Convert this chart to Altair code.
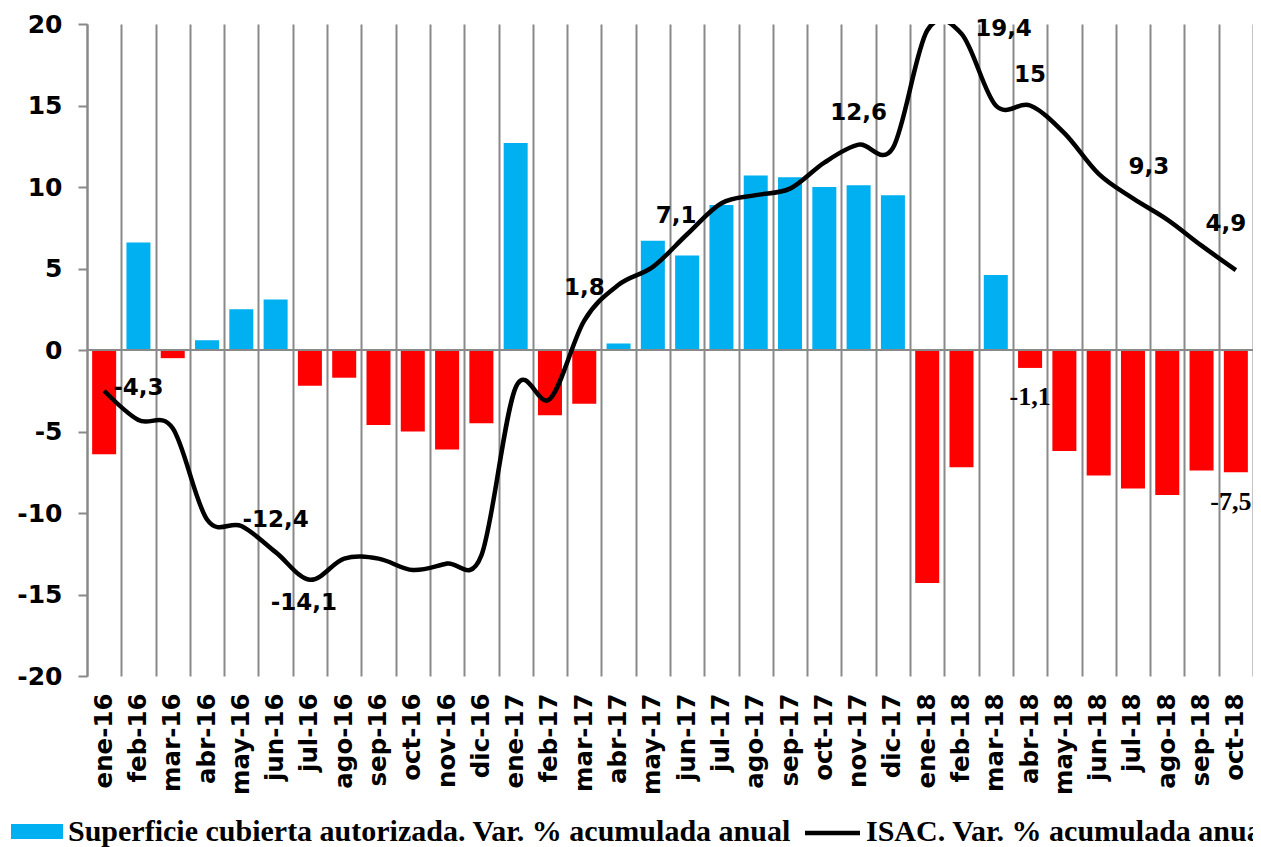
import altair as alt
import pandas as pd

months = ["ene-16", "feb-16", "mar-16", "abr-16", "may-16", "jun-16", "jul-16", "ago-16",
          "sep-16", "oct-16", "nov-16", "dic-16", "ene-17", "feb-17", "mar-17", "abr-17",
          "may-17", "jun-17", "jul-17", "ago-17", "sep-17", "oct-17", "nov-17", "dic-17",
          "ene-18", "feb-18", "mar-18", "abr-18", "may-18", "jun-18", "jul-18", "ago-18",
          "sep-18", "oct-18"]

superficie = [-6.4, 6.6, -0.5, 0.6, 2.5, 3.1, -2.2, -1.7, -4.6, -5.0, -6.1, -4.5,
              12.7, -4.0, -3.3, 0.4, 6.7, 5.8, 8.9, 10.7, 10.6, 10.0, 10.1, 9.5,
              -14.3, -7.2, 4.6, -1.1, -6.2, -7.7, -8.5, -8.9, -7.4, -7.5]

isac = [-2.5, -4.3, -4.8, -10.4, -10.8, -12.4, -14.1, -12.8, -12.8, -13.5, -13.1, -12.6,
        -2.3, -3.0, 1.8, 4.0, 5.1, 7.1, 9.0, 9.5, 9.9, 11.5, 12.6, 12.4,
        19.6, 19.4, 15.0, 15.0, 13.3, 10.8, 9.3, 8.0, 6.4, 4.9]

line_label_months = ["feb-16", "jun-16", "jul-16", "mar-17", "jun-17", "nov-17",
                     "feb-18", "abr-18", "jul-18", "oct-18"]
line_label_values = [-4.3, -12.4, -14.1, 1.8, 7.1, 12.6, 19.4, 15, 9.3, 4.9]
line_label_texts = ["-4,3", "-12,4", "-14,1", "1,8", "7,1", "12,6", "19,4", "15", "9,3", "4,9"]

bar_label_months = ["abr-18", "oct-18"]
bar_label_values = [-1.1, -7.5]
bar_label_texts = ["-1,1", "-7,5"]

legend_bar_text = "Superficie cubierta autorizada. Var. % acumulada anual"
legend_line_text = "ISAC. Var. % acumulada anual"

# label offsets (layout only)
line_label_dx = [0, 0, -6, 0, -11, 0, 42, 0, 16, -10]
line_label_dy = [-32, -32, 23, -33, -18, -32, -5, -31, -31, -46]
bar_label_dx = [0, -5]
bar_label_dy = [29, 30]

W, H = 1166, 652
GRID = "#898989"
BLUE = "#00B0F0"
RED = "#FF0000"

df = pd.DataFrame({"month": months, "sup": superficie, "isac": isac})

xscale = alt.Scale(domain=months, paddingInner=0, paddingOuter=0, round=False)
yscale = alt.Scale(domain=[-20, 20], nice=False, zero=False)

x_enc = alt.X("month:N", sort=months, scale=xscale, title=None,
              axis=alt.Axis(grid=True, gridColor=GRID, gridWidth=2, tickBand="extent",
                            ticks=False, domain=False, labelAngle=-90, labelFontSize=24.5,
                            labelFont="DejaVu Sans", labelFontWeight="bold",
                            labelColor="black", labelPadding=17, labelOverlap=False))
y_axis = alt.Axis(values=[-20, -15, -10, -5, 0, 5, 10, 15, 20], grid=False,
                  domainColor=GRID, domainWidth=2, tickColor=GRID, tickWidth=2,
                  tickSize=9, labelFontSize=25, labelFont="DejaVu Sans",
                  labelFontWeight="bold", labelColor="black", labelPadding=16,
                  labelExpr="'' + datum.value")

bars = alt.Chart(df).mark_bar(width=alt.RelativeBandSize(0.7)).encode(
    x=x_enc,
    y=alt.Y("sup:Q", scale=yscale, axis=y_axis, title=None),
    color=alt.condition(alt.datum.sup >= 0, alt.value(BLUE), alt.value(RED)),
)

zero = alt.Chart(pd.DataFrame({"z": [0]})).mark_rule(color=GRID, strokeWidth=2).encode(
    y=alt.Y("z:Q", scale=yscale),
    x=alt.value(0), x2=alt.value(W),
)

line = alt.Chart(df).mark_line(color="black", strokeWidth=4.5, interpolate="cardinal",
                               tension=0, clip=True).encode(
    x=alt.X("month:N", sort=months, scale=xscale),
    y=alt.Y("isac:Q", scale=yscale),
)

layers = [bars, zero, line]

for m, v, t, dx, dy in zip(line_label_months, line_label_values, line_label_texts,
                           line_label_dx, line_label_dy):
    d = pd.DataFrame({"month": [m], "value": [v], "label": [t]})
    layers.append(alt.Chart(d).mark_text(font="DejaVu Sans", fontWeight="bold", fontSize=23,
                                         color="black", dx=dx, dy=dy).encode(
        x=alt.X("month:N", sort=months, scale=xscale),
        y=alt.Y("value:Q", scale=yscale),
        text="label:N"))

for m, v, t, dx, dy in zip(bar_label_months, bar_label_values, bar_label_texts,
                           bar_label_dx, bar_label_dy):
    d = pd.DataFrame({"month": [m], "value": [v], "label": [t]})
    layers.append(alt.Chart(d).mark_text(font="Liberation Serif", fontWeight="bold", fontSize=26,
                                         color="black", dx=dx, dy=dy).encode(
        x=alt.X("month:N", sort=months, scale=xscale),
        y=alt.Y("value:Q", scale=yscale),
        text="label:N"))

one = pd.DataFrame({"a": [1]})
legend_rect = alt.Chart(one).mark_rect(color=BLUE).encode(
    x=alt.value(-76), x2=alt.value(-24), y=alt.value(800), y2=alt.value(815))
legend_t1 = alt.Chart(one).mark_text(text=legend_bar_text, align="left", baseline="alphabetic",
                                     font="Liberation Serif", fontWeight="bold", fontSize=30,
                                     color="black").encode(x=alt.value(-19), y=alt.value(817))
legend_line = alt.Chart(one).mark_rule(color="black", strokeWidth=4.5).encode(
    x=alt.value(718), x2=alt.value(773), y=alt.value(809))
legend_t2 = alt.Chart(one).mark_text(text=legend_line_text, align="left", baseline="alphabetic",
                                     font="Liberation Serif", fontWeight="bold", fontSize=30,
                                     color="black").encode(x=alt.value(779), y=alt.value(817))
layers += [legend_rect, legend_t1, legend_line, legend_t2]

chart = alt.layer(*layers).properties(
    width=W, height=H,
    autosize=alt.AutoSizeParams(type="none"),
    padding={"left": 79, "top": 16, "right": 0, "bottom": 171},
).configure_view(stroke=None)

chart.save("out.html", embed_options={"renderer": "svg", "actions": False})
